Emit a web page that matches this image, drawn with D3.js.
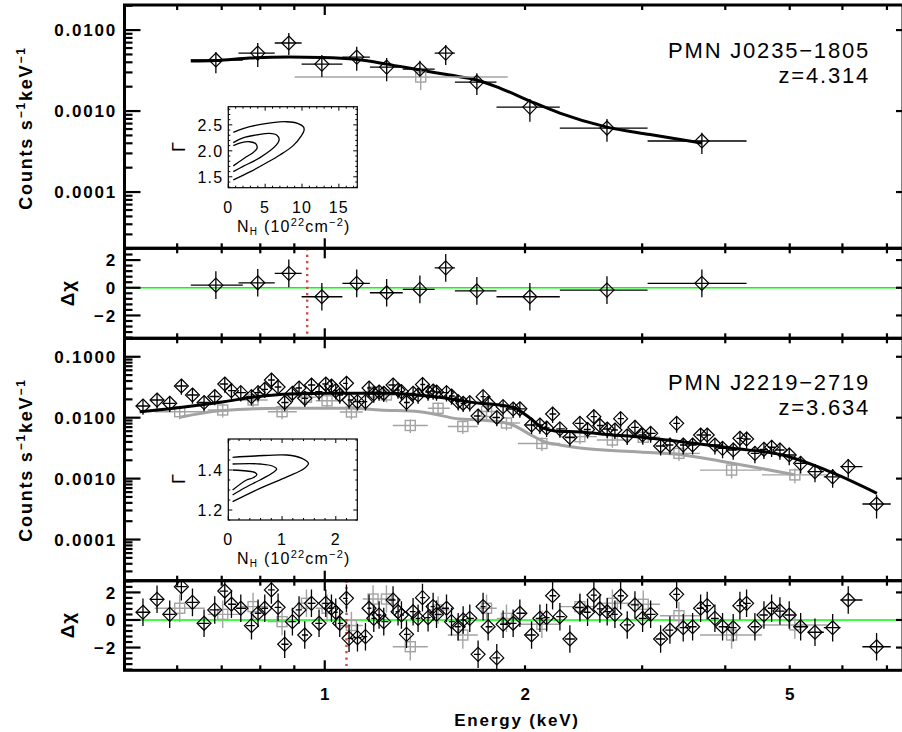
<!DOCTYPE html>
<html><head><meta charset="utf-8">
<script src="https://cdn.jsdelivr.net/npm/d3@7"></script>
<style>body{margin:0;background:#fff}svg{display:block}text{font-family:"Liberation Sans",Arial,Helvetica,sans-serif}</style>
</head><body><script>
// ---------------- DATA ----------------
const xTickVals = [0.6,0.7,0.8,0.9,1,2,3,4,5,6,7];
const xTickLabels = [[1,"1"],[2,"2"],[5,"5"]];
const yTopLabels = [[1e-4,"0.0001"],[1e-3,"0.0010"],[1e-2,"0.0100"]];
const yBotLabels = [[1e-4,"0.0001"],[1e-3,"0.0010"],[1e-2,"0.0100"],[1e-1,"0.1000"]];
const resLabels = [[-2,"\u22122"],[0,"0"],[2,"2"]];

// PMN J0235-1805 (top) black diamonds
const eA   = [0.686,0.793,0.883,0.990,1.117,1.239,1.390,1.520,1.693,2.034,2.656,3.689];
const eAlo = [0.629,0.742,0.841,0.923,1.063,1.169,1.310,1.463,1.569,1.812,2.256,3.057];
const eAhi = [0.753,0.841,0.923,1.063,1.169,1.310,1.463,1.569,1.812,2.256,3.057,4.306];
const fA   = [4.27e-3,5.20e-3,6.92e-3,3.80e-3,4.64e-3,3.49e-3,3.30e-3,5.20e-3,2.28e-3,1.12e-3,6.17e-4,4.27e-4];
const fAlo = [2.94e-3,3.49e-3,4.91e-3,2.63e-3,3.15e-3,2.34e-3,2.70e-3,3.70e-3,1.58e-3,7.38e-4,4.18e-4,2.94e-4];
const fAhi = [5.35e-3,6.92e-3,9.18e-3,4.91e-3,6.22e-3,4.51e-3,4.18e-3,6.53e-3,2.94e-3,1.41e-3,7.96e-4,5.40e-4];
const chiA = [0.19,0.36,1.04,-0.65,0.32,-0.36,-0.12,1.44,-0.22,-0.65,-0.17,0.32];
const eAg = [1.394], eAglo = [0.901], eAghi = [1.884];
const fAg = [2.63e-3], fAglo = [1.82e-3], fAghi = [3.49e-3];
const mAe = [0.629,0.686,0.771,0.883,0.990,1.117,1.239,1.390,1.542,1.693,1.833,2.034,2.256,2.656,3.082,3.689];
const mAf = [4.14e-3,4.20e-3,4.51e-3,4.64e-3,4.58e-3,4.32e-3,3.80e-3,3.21e-3,2.78e-3,2.42e-3,1.92e-3,1.33e-3,9.44e-4,6.34e-4,5.13e-4,4.03e-4];
const redA = 0.941;

// PMN J2219-2719 (bottom) black diamonds
const eB = [0.5330,0.5596,0.5847,0.6088,0.6326,0.6585,0.6833,0.7075,0.7240,0.7478,
0.7760,0.7938,0.8125,0.8314,0.8508,0.8705,0.8941,0.9149,0.9331,0.9550,
0.9804,1.0035,1.0235,1.0388,1.0533,1.0780,1.0877,1.1199,1.1513,1.1657,
1.1849,1.2069,1.2266,1.2667,1.2888,1.3040,1.3270,1.3576,1.3813,1.4025,
1.4299,1.4551,1.4723,1.5241,1.5507,1.5868,1.6144,1.6520,1.7002,1.7298,
1.7603,1.8138,1.8539,1.9195,1.9646,2.0459,2.1057,2.1552,2.2003,2.2567,
2.3360,2.4185,2.4834,2.5383,2.5915,2.6581,2.7300,2.7846,2.8489,2.9260,
3.0047,3.0894,3.1979,3.3026,3.3803,3.4582,3.5724,3.6728,3.7574,3.8590,
3.9628,4.1115,4.2081,4.3062,4.4320,4.5730,4.6958,4.8330,4.9912,5.1924,
5.4564,5.8009,6.1223,6.7532];
const fB = [0.01556,0.01953,0.01724,0.03315,0.02359,0.01777,0.02229,0.03576,0.02775,0.02573,
0.02212,0.02573,0.02926,0.04159,0.03192,0.01777,0.02516,0.03074,0.02083,0.03443,
0.02672,0.03576,0.03315,0.02775,0.02359,0.03672,0.01953,0.01831,0.01831,0.03074,
0.02450,0.02642,0.02516,0.03443,0.02850,0.02672,0.01777,0.02516,0.02359,0.03509,
0.02642,0.02744,0.02642,0.02573,0.02272,0.01831,0.01724,0.01763,0.01066,0.02212,
0.01724,0.01008,0.01516,0.01390,0.01400,0.00759,0.00759,0.00677,0.01150,0.00657,
0.00473,0.00809,0.00640,0.01038,0.00745,0.00652,0.00628,0.00963,0.00504,0.00696,
0.00520,0.00554,0.00343,0.00356,0.00809,0.00356,0.00356,0.00520,0.00520,0.00356,
0.00314,0.00295,0.00459,0.00447,0.00260,0.00303,0.00327,0.00295,0.00244,0.00178,
0.00130,0.00107,0.00157,0.000383];
const errB = [0.28,0.28,0.28,0.28,0.28,0.28,0.28,0.28,0.28,0.28,
0.28,0.28,0.28,0.28,0.28,0.28,0.28,0.28,0.28,0.28,
0.28,0.28,0.28,0.28,0.28,0.28,0.28,0.28,0.28,0.28,
0.28,0.28,0.28,0.28,0.28,0.28,0.28,0.28,0.28,0.28,
0.28,0.28,0.28,0.28,0.28,0.28,0.28,0.28,0.28,0.28,
0.28,0.28,0.29,0.29,0.29,0.29,0.29,0.29,0.29,0.29,
0.29,0.29,0.29,0.29,0.29,0.29,0.29,0.29,0.29,0.29,
0.30,0.30,0.30,0.30,0.30,0.30,0.30,0.30,0.30,0.30,
0.31,0.31,0.31,0.31,0.31,0.31,0.31,0.31,0.32,0.32,
0.33,0.34,0.34,0.42];
const chiB = [0.56,1.50,0.41,2.42,1.28,-0.24,0.73,2.10,1.14,0.85,
-0.41,0.49,0.85,2.18,0.92,-1.76,-0.12,0.73,-1.09,1.21,
-0.24,1.21,0.85,0.56,-0.24,1.57,-1.33,-1.28,-1.21,0.85,
0.12,0.36,-0.12,1.45,0.60,0.36,-1.04,0.60,0.12,1.62,
0.17,0.97,0.41,0.85,-0.12,-0.49,0.00,0.12,-2.49,0.97,
-0.49,-2.75,-0.31,-0.24,0.49,-1.09,0.12,0.17,1.76,0.24,
-1.38,0.89,0.56,1.81,0.80,0.60,0.41,1.76,-0.36,1.09,
0.12,0.41,-1.38,-0.73,1.86,-0.56,-0.49,0.85,1.04,0.12,
-0.49,-0.56,1.04,1.21,-0.49,0.36,0.85,0.65,0.36,-0.49,
-0.89,-0.56,1.45,-1.94];
const eC   = [0.6053,0.7024,0.7802,0.8626,0.9386,1.0080,1.0967,1.1820,1.2380,1.3446,1.4804,1.6126,1.7507,1.8758,2.1203,2.4185,2.7064,3.0112,3.4072,4.0885,5.0896];
const eClo = [0.5551,0.6669,0.7452,0.8209,0.9077,0.9694,1.0533,1.1405,1.2098,1.2653,1.4286,1.5311,1.6986,1.8138,1.9513,2.2567,2.5645,2.8749,3.1904,3.6643,4.5415];
const eChi = [0.6602,0.7452,0.8209,0.9077,0.9694,1.0533,1.1405,1.2098,1.2741,1.4286,1.5417,1.6986,1.8138,1.9646,2.2567,2.5645,2.8749,3.1904,3.6643,4.5415,5.7063];
const fC   = [0.01254,0.01338,0.01953,0.01254,0.02163,0.01895,0.01240,0.02642,0.02359,0.00745,0.01427,0.00717,0.01264,0.00818,0.00377,0.00488,0.00430,0.00477,0.00260,0.00138,0.00115];
const errC = [0.25,0.25,0.25,0.25,0.25,0.25,0.25,0.25,0.25,0.25,0.25,0.25,0.25,0.25,0.25,0.25,0.25,0.25,0.25,0.27,0.27];
const chiC = [0.85,0.41,0.97,-0.12,1.21,0.85,-0.40,1.52,1.52,-1.94,0.73,-1.09,0.85,0.12,-0.31,0.97,1.21,1.14,0.31,-1.09,-0.36];
const mBe = [0.5269,0.5928,0.7050,0.7902,0.8889,1.0210,1.2266,1.5256,1.7104,1.8335,1.9307,2.0336,2.1272,2.2181,2.4185,2.7109,2.9760,3.2681,3.6643,4.1068,4.8842,5.8064,6.7608];
const mBf = [0.01254,0.01427,0.01831,0.02212,0.02450,0.02516,0.02516,0.02083,0.01724,0.01616,0.01443,0.00989,0.00677,0.00605,0.00582,0.00520,0.00482,0.00430,0.00370,0.00314,0.00244,0.00124,0.000574];
const mCe = [0.6053,0.6953,0.8557,1.1018,1.2098,1.3895,1.5959,1.7104,1.8971,2.0550,2.1422,2.2567,2.4185,2.9760,3.4543,3.9264,4.5101,5.0896];
const mCf = [0.01015,0.01302,0.01427,0.01427,0.01338,0.01254,0.00952,0.00917,0.00788,0.00500,0.00399,0.00356,0.00318,0.00273,0.00244,0.00195,0.00148,0.00115];
const redB = 1.078;

const contA = [
 [[0.68,2.357],[2,2.43],[4,2.50],[6,2.545],[7.9,2.56],[9.4,2.53],[10.2,2.46],[10.27,2.39],[9.9,2.29],[8.8,2.10],[7,1.92],[5.2,1.77],[3,1.60],[0.68,1.44]],
 [[0.68,2.157],[2,2.25],[4,2.31],[5.6,2.335],[6.6,2.30],[6.9,2.22],[6.5,2.11],[4.3,1.87],[2,1.70],[0.68,1.60]],
 [[0.68,2.10],[1.8,2.16],[2.9,2.175],[3.7,2.14],[3.9,2.05],[3.3,1.96],[2.4,1.88],[0.68,1.71]]
];
const contB = [
 [[0.08,1.4635],[0.5,1.470],[1.09,1.475],[1.37,1.458],[1.49,1.4335],[1.40,1.405],[1.09,1.366],[0.59,1.308],[0.08,1.2415]],
 [[0.08,1.430],[0.4,1.432],[0.59,1.430],[0.82,1.420],[0.90,1.405],[0.82,1.385],[0.59,1.350],[0.3,1.310],[0.08,1.275]],
 [[0.08,1.400],[0.34,1.395],[0.50,1.387],[0.53,1.376],[0.45,1.360],[0.34,1.350],[0.08,1.300]]
];
const insetAX = [0,5,10,15], insetAY = [1.5,2.0,2.5];
const insetBX = [0,1,2], insetBY = [1.2,1.4];

// ---------------- DRAWING ----------------
const svg = d3.select("body").append("svg").attr("width",902).attr("height",732);
const X0 = 124.5, X1 = 903;
const x = d3.scaleLog().domain([0.5,7.4]).range([X0,X1]);
const P1=[5,248.3], R1=[248.3,338.3], P2=[338.3,580.7], R2=[580.7,670.3];
const y1 = d3.scaleLog().domain([2.02e-5,0.0204]).range([P1[1],P1[0]]);
const yr1 = d3.scaleLinear().domain([-3.65,2.85]).range([R1[1],R1[0]]);
const y2 = d3.scaleLog().domain([2.11e-5,0.201]).range([P2[1],P2[0]]);
const yr2 = d3.scaleLinear().domain([-3.65,2.85]).range([R2[1],R2[0]]);
const GRAY = "#a3a3a3";

const defs = svg.append("defs");
function clip(id, r){ defs.append("clipPath").attr("id",id).append("rect")
  .attr("x",X0).attr("y",r[0]).attr("width",X1-X0).attr("height",r[1]-r[0]); return "url(#"+id+")"; }

function geomBins(e){
  return e.map((v,i)=>{
    const lo = i>0 ? Math.sqrt(v*e[i-1]) : v*Math.sqrt(v/e[1]);
    const hi = i<e.length-1 ? Math.sqrt(v*e[i+1]) : v*Math.sqrt(v/e[i-1]);
    return [lo,hi];
  });
}

function drawPts(g, pts, ys, shape, color, sw){
  pts.forEach(p=>{
    const cx=x(p.e), cy=ys(p.v);
    g.append("line").attr("x1",x(p.lo)).attr("x2",x(p.hi)).attr("y1",cy).attr("y2",cy)
      .attr("stroke",color).attr("stroke-width",sw);
    g.append("line").attr("x1",cx).attr("x2",cx).attr("y1",ys(p.vl)).attr("y2",ys(p.vh))
      .attr("stroke",color).attr("stroke-width",sw);
    if(shape==="d"){
      const s=7;
      g.append("path").attr("d",`M${cx},${cy-s}L${cx+s},${cy}L${cx},${cy+s}L${cx-s},${cy}Z`)
        .attr("fill","none").attr("stroke",color).attr("stroke-width",1.2);
    } else {
      const s=5;
      g.append("rect").attr("x",cx-s).attr("y",cy-s).attr("width",2*s).attr("height",2*s)
        .attr("fill","none").attr("stroke",color).attr("stroke-width",1.4);
    }
  });
}

function modelLine(g, es, fs, ys, color, w){
  g.append("path").datum(es.map((e,i)=>[e,fs[i]]))
    .attr("d", d3.line().x(d=>x(d[0])).y(d=>ys(d[1])).curve(d3.curveMonotoneX))
    .attr("fill","none").attr("stroke",color).attr("stroke-width",w).attr("stroke-linejoin","round");
}

function logMinors(ys){
  const [a,b]=ys.domain(); const out=[];
  for(let d=Math.floor(Math.log10(a)); d<=Math.ceil(Math.log10(b)); d++)
    for(let k=2;k<=9;k++){ const v=k*Math.pow(10,d); if(v>a&&v<b) out.push(v); }
  return out;
}
function logMajors(ys){
  const [a,b]=ys.domain(); const out=[];
  for(let d=Math.floor(Math.log10(a)); d<=Math.ceil(Math.log10(b)); d++){ const v=Math.pow(10,d); if(v>a&&v<b) out.push(v);}
  return out;
}

const LBL = {"font-size":"17px","font-weight":"bold","letter-spacing":"1.8px"};
function sty(sel, o){ Object.entries(o).forEach(([k,v])=>sel.style(k,v)); return sel; }

function frame(r, ys, majors, minors, labels){
  const g = svg.append("g").attr("stroke","#000");
  const [top,bot]=r;
  xTickVals.forEach(v=>{
    const L = v===1?10:5;
    g.append("line").attr("x1",x(v)).attr("x2",x(v)).attr("y1",top).attr("y2",top+L).attr("stroke-width",2.2);
    g.append("line").attr("x1",x(v)).attr("x2",x(v)).attr("y1",bot).attr("y2",bot-L).attr("stroke-width",2.2);
  });
  majors.forEach(v=>{
    g.append("line").attr("x1",X0).attr("x2",X0+16).attr("y1",ys(v)).attr("y2",ys(v)).attr("stroke-width",2.2);
    g.append("line").attr("x1",X1).attr("x2",X1-7).attr("y1",ys(v)).attr("y2",ys(v)).attr("stroke-width",2.2);
  });
  minors.forEach(v=>{
    g.append("line").attr("x1",X0).attr("x2",X0+8).attr("y1",ys(v)).attr("y2",ys(v)).attr("stroke-width",2.2);
  });
  g.append("rect").attr("x",X0).attr("y",top).attr("width",X1-X0).attr("height",bot-top)
    .attr("fill","none").attr("stroke-width",3);
  labels.forEach(([v,t])=>{
    sty(svg.append("text").attr("x",117).attr("y",ys(v)).attr("dy","0.36em")
      .attr("text-anchor","end").text(t), LBL);
  });
}

// ----- top spectrum panel -----
const gA = svg.append("g").attr("clip-path",clip("c1",P1));
modelLine(gA, mAe, mAf, y1, "#000", 3);
drawPts(gA, eAg.map((e,i)=>({e,lo:eAglo[i],hi:eAghi[i],v:fAg[i],vl:fAglo[i],vh:fAghi[i]})), y1, "s", GRAY, 1.4);
drawPts(gA, eA.map((e,i)=>({e,lo:eAlo[i],hi:eAhi[i],v:fA[i],vl:fAlo[i],vh:fAhi[i]})), y1, "d", "#000", 1.3);
frame(P1, y1, logMajors(y1), logMinors(y1), yTopLabels);

// ----- top residual panel -----
const gR1 = svg.append("g").attr("clip-path",clip("c2",R1));
gR1.append("line").attr("x1",X0).attr("x2",X1).attr("y1",yr1(0)).attr("y2",yr1(0)).attr("stroke","#00ff00").attr("stroke-width",1.5);
gR1.append("line").attr("x1",x(redA)).attr("x2",x(redA)).attr("y1",R1[0]).attr("y2",R1[1])
  .attr("stroke","#d8453f").attr("stroke-width",2.4).attr("stroke-dasharray","2.2,4.2");
drawPts(gR1, eA.map((e,i)=>({e,lo:eAlo[i],hi:eAhi[i],v:chiA[i],vl:chiA[i]-1,vh:chiA[i]+1})), yr1, "d", "#000", 1.3);
const resMinor = d3.range(-3.6,2.81,0.4).filter(v=>Math.abs(v-Math.round(v/2)*2)>0.05);
frame(R1, yr1, [-2,0,2], resMinor, resLabels);

// ----- bottom spectrum panel -----
const binsB = geomBins(eB);
const gB = svg.append("g").attr("clip-path",clip("c3",P2));
modelLine(gB, mCe, mCf, y2, GRAY, 3);
drawPts(gB, eC.map((e,i)=>({e,lo:eClo[i],hi:eChi[i],v:fC[i],vl:fC[i]*(1-errC[i]),vh:fC[i]*(1+errC[i])})), y2, "s", GRAY, 1.4);
modelLine(gB, mBe, mBf, y2, "#000", 3);
drawPts(gB, eB.map((e,i)=>({e,lo:binsB[i][0],hi:binsB[i][1],v:fB[i],vl:fB[i]*(1-errB[i]),vh:fB[i]*(1+errB[i])})), y2, "d", "#000", 1.3);
frame(P2, y2, logMajors(y2), logMinors(y2), yBotLabels);

// ----- bottom residual panel -----
const gR2 = svg.append("g").attr("clip-path",clip("c4",R2));
gR2.append("line").attr("x1",X0).attr("x2",X1).attr("y1",yr2(0)).attr("y2",yr2(0)).attr("stroke","#00ff00").attr("stroke-width",1.5);
drawPts(gR2, eC.map((e,i)=>({e,lo:eClo[i],hi:eChi[i],v:chiC[i],vl:chiC[i]-1,vh:chiC[i]+1})), yr2, "s", GRAY, 1.4);
gR2.append("line").attr("x1",x(redB)).attr("x2",x(redB)).attr("y1",R2[0]).attr("y2",R2[1])
  .attr("stroke","#d8453f").attr("stroke-width",2.4).attr("stroke-dasharray","2.2,4.2");
drawPts(gR2, eB.map((e,i)=>({e,lo:binsB[i][0],hi:binsB[i][1],v:chiB[i],vl:chiB[i]-1,vh:chiB[i]+1})), yr2, "d", "#000", 1.3);
frame(R2, yr2, [-2,0,2], resMinor, resLabels);

// x tick labels & title
xTickLabels.forEach(([v,t])=>{
  sty(svg.append("text").attr("x",x(v)+1).attr("y",700).attr("text-anchor","middle").text(t), LBL);
});
sty(svg.append("text").attr("x",517).attr("y",726).attr("text-anchor","middle").text("Energy (keV)"), LBL);

// y titles
function countsLabel(cy){
  const t = svg.append("text").attr("transform",`translate(32,${cy}) rotate(-90)`).attr("text-anchor","middle");
  sty(t, {"font-size":"18px","font-weight":"bold","letter-spacing":"1.8px"});
  t.append("tspan").text("Counts s");
  t.append("tspan").attr("dy",-7).style("font-size","12px").text("\u22121");
  t.append("tspan").attr("dy",7).text("keV");
  t.append("tspan").attr("dy",-7).style("font-size","12px").text("\u22121");
}
countsLabel(128); countsLabel(460);
function dchi(cy){
  sty(svg.append("text").attr("transform",`translate(74,${cy}) rotate(-90)`).attr("text-anchor","middle").text("\u0394\u03c7"),
    {"font-size":"19px","font-weight":"bold","letter-spacing":"1px"});
}
dchi(293); dchi(625);

// source names
function names(n, z, yb){
  const s={"font-size":"22px","letter-spacing":"1.8px"};
  sty(svg.append("text").attr("x",870).attr("y",yb).attr("text-anchor","end").text(n), s);
  sty(svg.append("text").attr("x",870).attr("y",yb+25).attr("text-anchor","end").text(z), s);
}
names("PMN J0235\u22121805","z=4.314",58);
names("PMN J2219\u22122719","z=3.634",390);

// ----- insets -----
function inset(box, xd, yd, xt, yt, xMinStep, yMinStep, conts, yfmt, lblY, nhY, gx, gy){
  const [bx0,bx1,by0,by1]=box;
  const ix=d3.scaleLinear().domain(xd).range([bx0,bx1]);
  const iy=d3.scaleLinear().domain(yd).range([by1,by0]);
  const g=svg.append("g");
  g.append("rect").attr("x",bx0).attr("y",by0).attr("width",bx1-bx0).attr("height",by1-by0)
    .attr("fill","#fff").attr("stroke","#000").attr("stroke-width",1.2);
  const xm=d3.range(Math.ceil(xd[0]/xMinStep)*xMinStep, xd[1], xMinStep);
  xm.forEach(v=>{
    const big = xt.some(t=>Math.abs(t-v)<1e-6); const L=big?4:2;
    g.append("line").attr("x1",ix(v)).attr("x2",ix(v)).attr("y1",by1).attr("y2",by1-L).attr("stroke","#000");
    g.append("line").attr("x1",ix(v)).attr("x2",ix(v)).attr("y1",by0).attr("y2",by0+L).attr("stroke","#000");
  });
  const ym=d3.range(Math.ceil(yd[0]/yMinStep)*yMinStep, yd[1], yMinStep);
  ym.forEach(v=>{
    const big = yt.some(t=>Math.abs(t-v)<1e-6); const L=big?4:2;
    g.append("line").attr("x1",bx0).attr("x2",bx0+L).attr("y1",iy(v)).attr("y2",iy(v)).attr("stroke","#000");
    g.append("line").attr("x1",bx1).attr("x2",bx1-L).attr("y1",iy(v)).attr("y2",iy(v)).attr("stroke","#000");
  });
  conts.forEach(c=>{
    g.append("path").datum(c).attr("d",d3.line().x(d=>ix(d[0])).y(d=>iy(d[1])).curve(d3.curveCatmullRom))
      .attr("fill","none").attr("stroke","#000").attr("stroke-width",1.3);
  });
  const ts={"font-size":"16px","letter-spacing":"1.2px"};
  xt.forEach(v=>sty(g.append("text").attr("x",ix(v)).attr("y",lblY).attr("text-anchor","middle").text(v), ts));
  yt.forEach(v=>sty(g.append("text").attr("x",bx0-5).attr("y",iy(v)).attr("dy","0.36em").attr("text-anchor","end").text(yfmt(v)), ts));
  const nh=g.append("text").attr("x",(bx0+bx1)/2+1).attr("y",nhY).attr("text-anchor","middle");
  sty(nh, ts);
  nh.append("tspan").text("N");
  nh.append("tspan").attr("dy",3).style("font-size","10px").text("H");
  nh.append("tspan").attr("dy",-3).text(" (10");
  nh.append("tspan").attr("dy",-6).style("font-size","11px").text("22");
  nh.append("tspan").attr("dy",6).text("cm");
  nh.append("tspan").attr("dy",-6).style("font-size","11px").text("\u22122");
  nh.append("tspan").attr("dy",6).text(")");
  sty(g.append("text").attr("transform",`translate(${gx},${gy}) rotate(-90)`).attr("text-anchor","middle").text("\u0393"), {"font-size":"18px"});
}
inset([228.3,357.3,106.7,187.7],[0,17.5],[1.29,2.85],insetAX,insetAY,1,0.1,contA,v=>v.toFixed(1),213,232,185,147);
inset([228.3,357.3,439,520],[0,2.4],[1.15,1.555],insetBX,insetBY,0.2,0.05,contB,v=>v.toFixed(1),545,564,185,479);
</script></body></html>
